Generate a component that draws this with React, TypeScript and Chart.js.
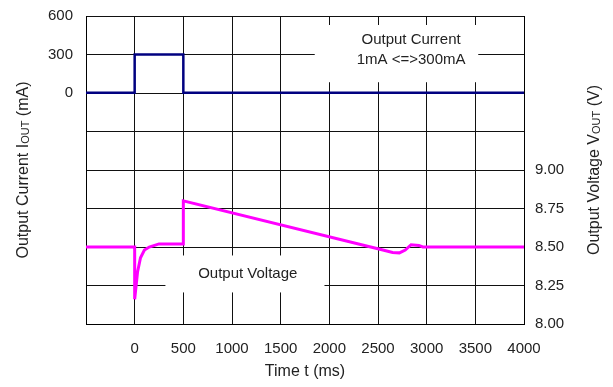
import React, { useEffect, useRef } from "react";
import { Chart, registerables } from "chart.js";

Chart.register(...registerables);

// ---- data ----
const timeTickLabels = [0, 500, 1000, 1500, 2000, 2500, 3000, 3500, 4000];
const currentTickLabels = [600, 300, 0];
const voltageTickLabels = [8.0, 8.25, 8.5, 8.75, 9.0];

const currentTime = [-500, 0, 0, 500, 500, 4000];
const currentValues = [1, 1, 300, 300, 1, 1];

const voltageTime = [-500, 0, 0, 10, 30, 60, 100, 150, 250, 500, 500, 2550, 2650, 2720, 2780, 2840, 2920, 2960, 4000];
const voltageValues = [8.5, 8.5, 8.16, 8.22, 8.34, 8.43, 8.48, 8.5, 8.52, 8.52, 8.8, 8.48, 8.465, 8.462, 8.48, 8.515, 8.51, 8.5, 8.5];

// annotation boxes (data coordinates)
const currentNote = { x0: 1850, x1: 3530, y0: 530, y1: 84, cx: 2840, cy: 334, lines: ["Output Current", "1mA <=>300mA"] };
const voltageNote = { x0: 316, x1: 1950, y0: 8.445, y1: 8.205, cx: 1162, cy: 8.328, lines: ["Output Voltage"] };

const FONT = '"Liberation Sans", Arial, sans-serif';
const TEXT = "#222";

const annotationPlugin = {
  id: "notes",
  beforeDatasetsDraw(chart: any) {
    const { ctx } = chart;
    const sx = chart.scales.x;
    const draw = (note: any, sy: any) => {
      const l = sx.getPixelForValue(note.x0);
      const r = sx.getPixelForValue(note.x1);
      const t = sy.getPixelForValue(note.y0);
      const b = sy.getPixelForValue(note.y1);
      ctx.save();
      ctx.fillStyle = "#fff";
      ctx.fillRect(l, t, r - l, b - t);
      ctx.fillStyle = TEXT;
      ctx.font = `15px ${FONT}`;
      ctx.textAlign = "center";
      ctx.textBaseline = "middle";
      const cx = sx.getPixelForValue(note.cx);
      const cy = sy.getPixelForValue(note.cy);
      const lh = 20;
      const n = note.lines.length;
      note.lines.forEach((s: string, i: number) => {
        ctx.fillText(s, cx, cy + (i - (n - 1) / 2) * lh);
      });
      ctx.restore();
    };
    draw(currentNote, chart.scales.yI);
    draw(voltageNote, chart.scales.yV);
  },
  afterDraw(chart: any) {
    const { ctx, chartArea } = chart;
    const midY = (chartArea.top + chartArea.bottom) / 2;
    const midX = (chartArea.left + chartArea.right) / 2;
    const drawRot = (cx: number, segs: [string, boolean][]) => {
      ctx.save();
      ctx.translate(cx, midY);
      ctx.rotate(-Math.PI / 2);
      ctx.fillStyle = TEXT;
      ctx.textBaseline = "alphabetic";
      ctx.textAlign = "left";
      let total = 0;
      for (const [s, sub] of segs) {
        ctx.font = sub ? `11px ${FONT}` : `16px ${FONT}`;
        total += ctx.measureText(s).width;
      }
      let x = -total / 2;
      for (const [s, sub] of segs) {
        ctx.font = sub ? `11px ${FONT}` : `16px ${FONT}`;
        ctx.fillText(s, x, sub ? 7 : 6);
        x += ctx.measureText(s).width;
      }
      ctx.restore();
    };
    drawRot(22, [["Output Current I", false], ["OUT", true], [" (mA)", false]]);
    drawRot(593, [["Output Voltage V", false], ["OUT", true], [" (V)", false]]);
    ctx.save();
    ctx.fillStyle = TEXT;
    ctx.font = `16px ${FONT}`;
    ctx.textAlign = "center";
    ctx.textBaseline = "middle";
    ctx.fillText("Time t (ms)", midX, 372);
    ctx.restore();
  },
};

const fixY = (w: number) => (s: any) => {
  s.width = w;
  s.paddingTop = 0;
  s.paddingBottom = 0;
};

export default function App() {
  const ref = useRef<HTMLCanvasElement>(null);
  useEffect(() => {
    if (!ref.current) return;
    const tickFont = { family: FONT, size: 15 };
    const chart = new Chart(ref.current, {
      type: "line",
      data: {
        datasets: [
          {
            label: "Output Current",
            data: currentTime.map((t, i) => ({ x: t, y: currentValues[i] })),
            borderColor: "#000080",
            borderWidth: 2.5,
            pointRadius: 0,
            tension: 0,
            yAxisID: "yI",
          },
          {
            label: "Output Voltage",
            data: voltageTime.map((t, i) => ({ x: t, y: voltageValues[i] })),
            borderColor: "#ff00ff",
            borderWidth: 3,
            pointRadius: 0,
            tension: 0,
            yAxisID: "yV",
          },
        ],
      },
      options: {
        responsive: false,
        animation: false,
        devicePixelRatio: 1,
        layout: { padding: { top: 16, left: 0, right: 0, bottom: 0 } },
        plugins: { legend: { display: false }, tooltip: { enabled: false } },
        scales: {
          x: {
            type: "linear",
            min: -500,
            max: 4000,
            afterFit: (s: any) => { s.height = 63; s.paddingLeft = 0; s.paddingRight = 0; },
            ticks: {
              stepSize: 500,
              autoSkip: false,
              maxRotation: 0,
              padding: 16,
              color: TEXT,
              font: tickFont,
              callback: (v: any) => (timeTickLabels.includes(v) ? String(v) : ""),
            },
            grid: { color: "#111", lineWidth: 1, drawTicks: false },
            border: { color: "#000", width: 1 },
          },
          yI: {
            type: "linear",
            position: "left",
            min: -1800,
            max: 600,
            afterFit: fixY(86),
            ticks: {
              stepSize: 300,
              autoSkip: false,
              padding: 13,
              color: TEXT,
              font: tickFont,
              callback: (v: any) => (currentTickLabels.includes(v) ? String(v) : ""),
            },
            grid: { color: "#111", lineWidth: 1, drawTicks: false },
            border: { color: "#000", width: 1 },
          },
          yV: {
            type: "linear",
            position: "right",
            min: 8,
            max: 10,
            afterFit: fixY(89),
            ticks: {
              stepSize: 0.25,
              autoSkip: false,
              padding: 11,
              color: TEXT,
              font: tickFont,
              callback: (v: any) =>
                voltageTickLabels.some((t) => Math.abs(t - v) < 1e-6) ? Number(v).toFixed(2) : "",
            },
            grid: { display: false, drawTicks: false },
            border: { color: "#000", width: 1 },
          },
        },
      },
      plugins: [annotationPlugin],
    } as any);
    return () => chart.destroy();
  }, []);
  return (
    <div style={{ position: "absolute", left: 0, top: 0, width: 613, height: 387, background: "#fff" }}>
      <canvas ref={ref} width={613} height={387} />
    </div>
  );
}
